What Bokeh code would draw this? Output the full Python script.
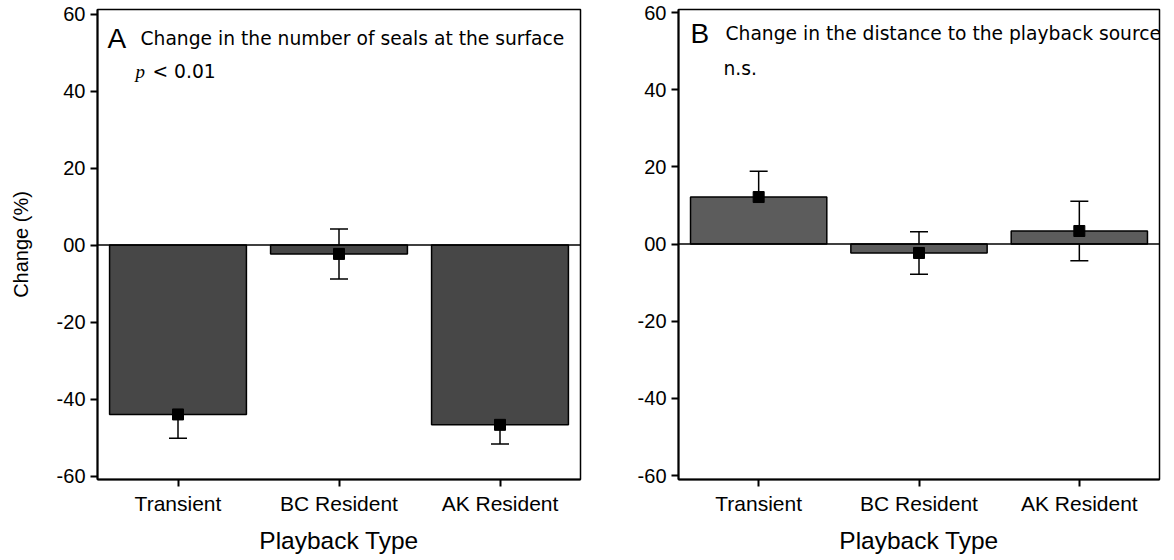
from bokeh.plotting import figure
from bokeh.models import ColumnDataSource, Range1d, FactorRange, FixedTicker, Span, Whisker, TeeHead, Label
from bokeh.layouts import row
from bokeh.embed import file_html
from bokeh.resources import INLINE

categories = ["Transient", "BC Resident", "AK Resident"]
a_mean = [-44.0, -2.3, -46.7]
a_err = [6.2, 6.5, 5.0]
b_mean = [12.2, -2.3, 3.4]
b_err = [6.7, 5.5, 7.7]
y_ticks = [-60, -40, -20, 0, 20, 40, 60]
y_labels = {-60: "-60", -40: "-40", -20: "-20", 0: "00", 20: "20", 40: "40", 60: "60"}

TICK_FONT = "Liberation Sans"
TEXT_FONT = "DejaVu Sans"


def make_panel(means, errs, fill, width, border_left, border_right, border_top, border_bottom, yr, ylabel):
    p = figure(x_range=FactorRange(*categories, range_padding=0), y_range=Range1d(*yr),
               width=width, height=560, output_backend="svg", toolbar_location=None,
               min_border_left=border_left, min_border_right=border_right,
               min_border_top=border_top, min_border_bottom=border_bottom)
    p.background_fill_color = "white"
    p.border_fill_color = "white"
    p.outline_line_color = "black"
    p.outline_line_width = 1.5
    p.xgrid.visible = False
    p.ygrid.visible = False
    lower = [m - e for m, e in zip(means, errs)]
    upper = [m + e for m, e in zip(means, errs)]
    src = ColumnDataSource(dict(x=categories, top=means, lower=lower, upper=upper))
    p.vbar(x="x", top="top", bottom=0, width=0.85, source=src,
           fill_color=fill, line_color="black", line_width=1.5)
    p.add_layout(Span(location=0, dimension="width", line_color="black", line_width=1.5))
    w = Whisker(base="x", lower="lower", upper="upper", source=src,
                line_color="black", line_width=1.5,
                upper_head=TeeHead(size=18, line_color="black", line_width=1.5),
                lower_head=TeeHead(size=18, line_color="black", line_width=1.5))
    p.add_layout(w)
    p.scatter(x="x", y="top", source=src, marker="square", size=11,
              fill_color="black", line_color="black")

    ya = p.yaxis[0]
    ya.ticker = FixedTicker(ticks=y_ticks)
    ya.major_label_overrides = y_labels
    ya.minor_tick_line_color = None
    ya.major_tick_in = 0
    ya.major_tick_out = 7
    ya.major_tick_line_width = 2
    ya.axis_line_width = 2
    ya.major_label_text_font = TICK_FONT
    ya.major_label_text_font_size = "20px"
    ya.major_label_text_color = "black"
    ya.major_label_standoff = 5
    if ylabel:
        ya.axis_label = ylabel
        ya.axis_label_text_font = TICK_FONT
        ya.axis_label_text_font_style = "normal"
        ya.axis_label_text_font_size = "20px"
        ya.axis_label_standoff = 22
        ya.axis_label_text_color = "black"

    xa = p.xaxis[0]
    xa.major_tick_in = 0
    xa.major_tick_out = 7
    xa.major_tick_line_width = 2
    xa.axis_line_width = 2
    xa.major_label_text_font = TICK_FONT
    xa.major_label_text_font_size = "21px"
    xa.major_label_text_color = "black"
    xa.major_label_standoff = 5
    xa.axis_label = "Playback Type"
    xa.axis_label_text_font = TICK_FONT
    xa.axis_label_text_font_style = "normal"
    xa.axis_label_text_font_size = "24.5px"
    xa.axis_label_standoff = 9
    xa.axis_label_text_color = "black"
    return p


p1 = make_panel(a_mean, a_err, "#474747", 630, 97, 50, 6, 81, (-60.9, 61.2), "Change (%)")
p2 = make_panel(b_mean, b_err, "#5c5c5c", 544, 48, 15, 9, 78, (-61.0, 60.8), None)

FH = 473


def add_text(p, text, x, y_from_top, font, size, style="normal"):
    p.add_layout(Label(x=x, y=FH - y_from_top, x_units="screen", y_units="screen",
                       text=text, text_font=font, text_font_size=size,
                       text_font_style=style, text_color="black",
                       text_baseline="alphabetic", text_align="left"))


add_text(p1, "A", 10, 32, TICK_FONT, "28px")
add_text(p1, "Change in the number of seals at the surface", 43, 32, TEXT_FONT, "18.7px")
add_text(p1, "p", 38, 65, "Liberation Serif", "19px", "italic")
add_text(p1, "< 0.01", 55, 65, TEXT_FONT, "18.7px")

add_text(p2, "B", 12, 27, TICK_FONT, "28px")
add_text(p2, "Change in the distance to the playback source", 47, 27, TEXT_FONT, "18.7px")
add_text(p2, "n.s.", 45, 62, TEXT_FONT, "18.7px")

layout = row(p1, p2)
open("out.html", "w").write(file_html(layout, INLINE))
